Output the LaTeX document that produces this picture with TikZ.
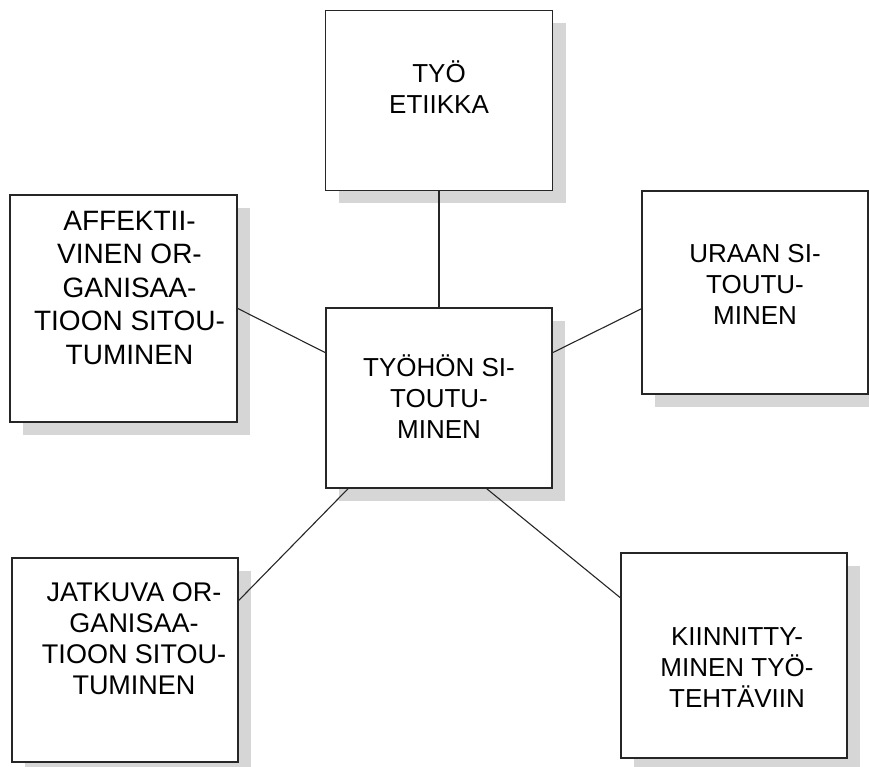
\documentclass[tikz,border=0pt]{standalone}
\usepackage{fontspec}
\setmainfont{Liberation Sans}
\usetikzlibrary{positioning,calc,shadows}
\tikzset{
  box/.style  = {draw=black!85, line width=1.6pt, fill=white,
                 minimum width=226pt, minimum height=204pt, inner sep=0pt,
                 drop shadow={shadow xshift=13pt, shadow yshift=-13pt,
                              fill=black!16, opacity=1}},
  txt/.style  = {align=center, inner sep=0pt, font=\fontsize{26}{31}\selectfont},
  conn/.style = {line width=1.1pt, draw=black!85},
}

\begin{document}
\begin{tikzpicture}[x=1pt, y=1pt]
  \useasboundingbox (0,0) rectangle (869,767);
  % boxes
  \node[box, minimum height=180pt] (tyo) at (439,369) {};
  \node[box, minimum width=227pt, minimum height=180pt, above=116pt of tyo] (etik) {};
  \node[box, minimum width=227pt, minimum height=227pt] (aff) at (123.5,458.5) {};
  \node[box, minimum height=203pt] (ura) at (755,474.5) {};
  \node[box] (jatk) at (125,107) {};
  \node[box, minimum height=205pt] (kiin) at (734,111.5) {};
  % texts
  \node[txt, yshift=13pt] (etik-t) at (etik) {TYÖ\\ETIIKKA};
  \node[txt, yshift=1.5pt] (tyo-t) at (tyo) {TYÖHÖN SI-\\TOUTU-\\MINEN};
  \node[txt, font=\fontsize{28}{33.5}\selectfont, xshift=6pt, yshift=20.5pt] (aff-t) at (aff)
    {AFFEKTII-\\VINEN OR-\\GANISAA-\\TIOON SITOU-\\TUMINEN};
  \node[txt, yshift=8.5pt] (ura-t) at (ura) {URAAN SI-\\TOUTU-\\MINEN};
  \node[txt, font=\fontsize{27}{31}\selectfont, xshift=9pt, yshift=21.5pt] (jatk-t) at (jatk)
    {JATKUVA OR-\\GANISAA-\\TIOON SITOU-\\TUMINEN};
  \node[txt, xshift=3pt, yshift=-12pt] (kiin-t) at (kiin) {KIINNITTY-\\MINEN TYÖ-\\TEHTÄVIIN};
  % connectors
  \draw[conn] (etik) -- (tyo);
  \draw[conn] (aff.east) -- ($(tyo.north west)!0.25!(tyo.south west)$);
  \draw[conn] ($(tyo.north east)!0.25!(tyo.south east)$) -- ($(ura.north west)!0.58!(ura.south west)$);
  \draw[conn] ($(tyo.south west)!0.1!(tyo.south east)$) -- ($(jatk.north east)!0.21!(jatk.south east)$);
  \draw[conn] ($(tyo.south west)!0.71!(tyo.south east)$) -- ($(kiin.north west)!0.22!(kiin.south west)$);
\end{tikzpicture}
\end{document}
